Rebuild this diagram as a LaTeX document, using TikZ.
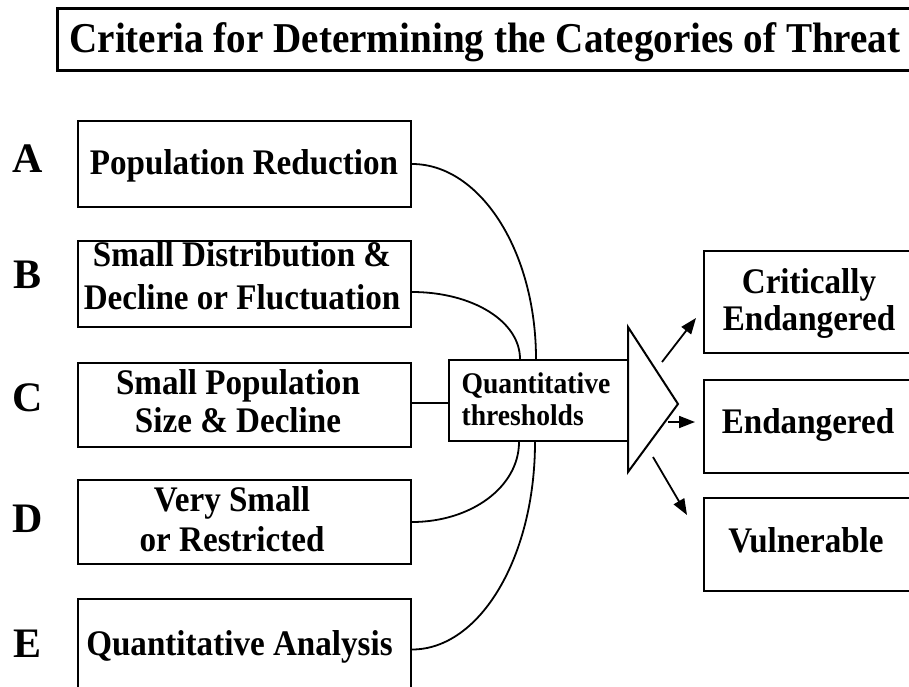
\documentclass[tikz,border=0pt]{standalone}
\usepackage{fontspec}
\setmainfont{Liberation Serif}[FakeStretch=0.92]
\newfontfamily\widserif{Liberation Serif}
\usetikzlibrary{arrows.meta,calc}
\begin{document}
\begin{tikzpicture}[x=1pt,y=-1pt,
  frame/.style={draw, line width=2pt, inner sep=0pt},
  crit/.style={frame, minimum width=333pt},
  cat/.style={frame, minimum width=211pt},
  boxtext/.style={inner sep=0pt, align=center, font=\bfseries\fontsize{36}{42}\selectfont},
  letter/.style={inner sep=0pt, anchor=base, font=\widserif\bfseries\fontsize{42}{42}\selectfont},
  link/.style={line width=1.8pt},
  pointer/.style={line width=1.8pt, -{Triangle[length=16pt,width=12pt]}}]
\useasboundingbox (0,0) rectangle (909,687);
\fill[white] (0,0) rectangle (909,687);

% title banner
\node[frame, line width=3pt, minimum width=863pt, minimum height=62pt] (titlebox) at (488.5,40) {};
\node[anchor=base, inner sep=0pt, font=\bfseries\fontsize{42.5}{42.5}\selectfont] (title) at (485,53)
  {Criteria for Determining the Categories of Threat};

% criterion letters
\node[letter] (lA) at (28,172) {A};
\node[letter] (lB) at (28,288) {B};
\node[letter] (lC) at (28,411) {C};
\node[letter] (lD) at (28,532) {D};
\node[letter] (lE) at (28,657) {E};

% criterion boxes
\node[crit, minimum height=86pt] (bA) at (244.5,164) {};
\node[crit, minimum height=86pt] (bB) at (244.5,284) {};
\node[crit, minimum height=84pt] (bC) at (244.5,404.5) {};
\node[crit, minimum height=84pt] (bD) at (244.5,522) {};
\node[crit, minimum height=101pt] (bE) at (244.5,649.5) {};

\node[boxtext] (tA) at (244,165.5) {Population Reduction};
\node[boxtext, font=\bfseries\fontsize{36}{43}\selectfont] (tB) at (242,276) {Small Distribution \&\\Decline or Fluctuation};
\node[boxtext, font=\bfseries\fontsize{36}{38}\selectfont] (tC) at (238,401.5) {Small Population\\Size \& Decline};
\node[boxtext, font=\bfseries\fontsize{36}{40}\selectfont] (tD) at (232,519.5) {Very Small\\or Restricted};
\node[boxtext] (tE) at (239.5,646.5) {Quantitative Analysis};

% thresholds box and funnel
\node[frame, minimum width=179pt, minimum height=81pt] (q) at (538.5,400.5) {};
\node[inner sep=0pt, align=left, font=\bfseries\fontsize{30}{32}\selectfont] (qt) at (536,399.5)
  {Quantitative\\thresholds};
\coordinate (fTop) at (628,327);
\coordinate (fBot) at (628,472);
\coordinate (fTip) at (678,404);
\draw[line width=2pt, line join=miter] (fTop) -- (fTip) -- (fBot) -- cycle;

% category boxes
\node[cat, minimum height=102pt] (cCE) at (809.5,302) {};
\node[cat, minimum height=93pt] (cEN) at (809.5,426.5) {};
\node[cat, minimum height=93pt] (cVU) at (809.5,544.5) {};
\node[boxtext, font=\bfseries\fontsize{36}{37}\selectfont] (tCE) at (809,303) {Critically\\Endangered};
\node[boxtext] (tEN) at (808,425) {Endangered};
\node[boxtext] (tVU) at (806,540.5) {Vulnerable};

% connectors into the thresholds box
\draw[link] (bA.east) .. controls +(68,0) and +(0,-108) .. ($(q.north west)+(88,0)$);
\draw[link] ($(bB.east)+(0,8)$) .. controls +(60,0) and +(0,-38) .. ($(q.north west)+(72,0)$);
\draw[link] ($(bC.east)+(0,-1.5)$) -- ($(q.west)+(0,2.5)$);
\draw[link] (bD.east) .. controls +(59,0) and +(0,45) .. ($(q.south west)+(71,0)$);
\draw[link] (bE.east) .. controls +(68,0) and +(0,115) .. ($(q.south west)+(87,0)$);

% arrows out of the funnel
\coordinate (s1) at (662,362);
\coordinate (e1) at (696,318);
\coordinate (s2) at (668,422);
\coordinate (e2) at (695,422);
\coordinate (s3) at (653,457);
\coordinate (e3) at (687,515);
\draw[pointer] (s1) -- (e1);
\draw[pointer] (s2) -- (e2);
\draw[pointer] (s3) -- (e3);
\end{tikzpicture}
\end{document}
